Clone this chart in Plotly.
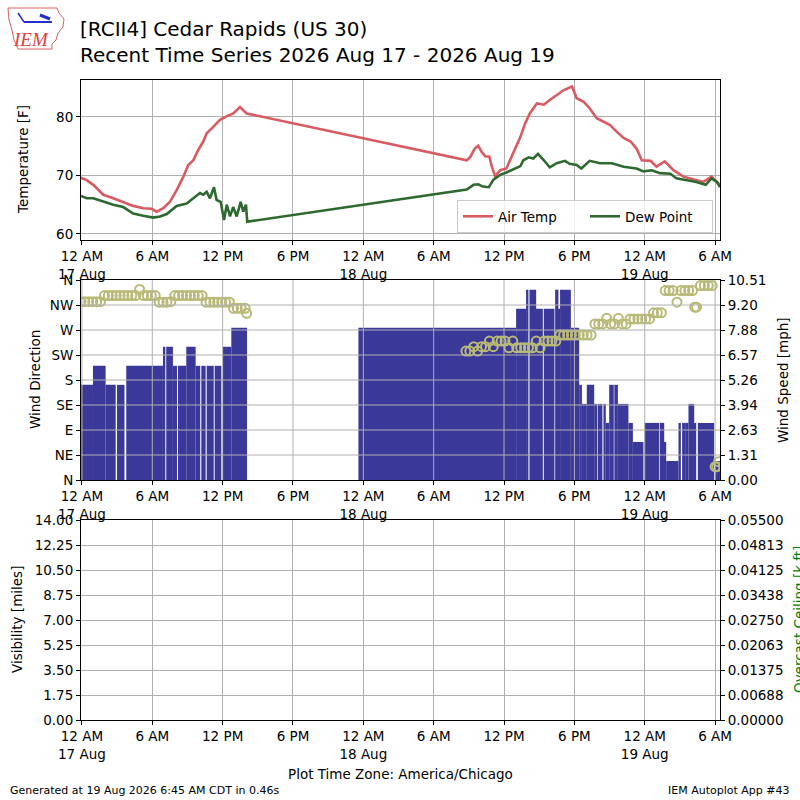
import pandas as pd
import plotly.graph_objects as go

START = pd.Timestamp("2026-08-17 00:00")

# temperatures, hours after 17 Aug 00:00 (CDT)
TEMP_HOURS = [-0.08, 0.40, 0.97, 1.82, 2.67, 3.53, 4.38, 5.23, 5.94, 6.37, 6.94, 7.51,
              8.08, 8.65, 9.07, 9.50, 9.93, 10.35, 10.64, 11.20, 11.77, 12.34, 12.91,
              13.48, 14.05,
              32.82, 33.10, 33.50, 33.80, 34.10, 34.40, 34.75, 34.96, 35.24, 35.67,
              36.20, 36.80, 37.40, 37.80, 38.20, 38.80, 39.40, 39.90, 40.50, 41.10,
              41.80, 42.20, 42.80, 43.30, 43.90, 44.50, 45.05, 45.60, 46.20, 46.80,
              47.30, 47.75, 48.50, 49.00, 49.70, 50.45, 51.30, 52.20, 53.00, 53.70,
              54.15, 54.42]
TEMP_F = [69.6, 69.2, 68.4, 66.7, 66.1, 65.5, 64.8, 64.4, 64.3, 63.8, 64.4, 65.5,
          67.5, 69.8, 71.8, 72.6, 74.4, 75.8, 77.2, 78.3, 79.5, 80.1, 80.6,
          81.7, 80.6,
          72.6, 73.1, 74.6, 75.1, 74.0, 73.3, 73.2, 71.5, 69.9, 70.9,
          71.2, 73.8, 76.6, 78.9, 80.6, 82.3, 82.1, 82.9, 83.8, 84.6,
          85.2, 83.2, 82.6, 81.5, 79.8, 79.2, 78.6, 77.5, 76.4, 75.8,
          74.6, 72.6, 72.5, 71.5, 72.4, 70.9, 69.8, 69.3, 68.9, 69.8,
          68.9, 68.4]

DEW_HOURS = [-0.08, 0.40, 0.97, 1.82, 2.67, 3.52, 4.38, 5.23, 6.08, 6.66, 7.23, 8.08,
             8.93, 9.50, 10.07, 10.35, 10.64, 10.92, 11.26, 11.49, 11.83, 12.12,
             12.35, 12.63, 12.90, 13.20, 13.54, 13.76, 13.99, 14.10,
             32.82, 33.40, 33.80, 34.20, 34.70, 35.10, 35.67, 36.20, 36.80, 37.40,
             37.65, 38.10, 38.50, 38.90, 39.40, 39.90, 40.50, 41.20, 41.60, 42.20,
             42.60, 43.30, 44.20, 45.20, 46.20, 47.30, 47.90, 48.60, 49.30, 50.20,
             50.70, 51.60, 52.40, 53.20, 53.70, 54.15, 54.42]
DEW_F = [66.5, 66.1, 66.1, 65.5, 65.0, 64.6, 63.5, 63.1, 62.8, 63.0, 63.4, 64.8,
         65.2, 66.1, 67.0, 66.7, 67.2, 66.1, 68.0, 65.8, 65.5, 62.4,
         65.0, 63.0, 64.6, 63.0, 65.5, 63.8, 65.0, 62.1,
         67.6, 68.4, 68.5, 68.1, 68.0, 69.3, 70.1, 70.5, 71.1, 71.6,
         72.6, 73.1, 72.9, 73.7, 72.6, 71.4, 72.1, 72.5, 72.0, 71.8,
         71.2, 72.5, 72.1, 72.1, 71.5, 71.2, 70.7, 70.9, 70.4, 70.3,
         69.5, 69.2, 68.9, 68.4, 69.5, 68.9, 68.0]

# wind speed bars: start hour, end hour, speed [mph]
BAR_START = [-0.08, 0.94, 2.02, 2.99, 3.78, 6.91, 7.19, 7.76, 8.19, 8.90, 9.70,
             10.18, 10.64, 11.32, 12.03, 12.74,
             23.58, 37.03, 37.88, 38.17, 38.74, 38.88, 39.39, 40.36, 40.64, 40.78,
             41.70, 42.41, 42.64, 43.06, 43.69, 43.99, 44.48, 44.68, 44.97, 45.41,
             45.71, 46.61, 46.99, 47.98, 49.29, 49.66, 49.83, 50.88, 51.19, 51.60,
             51.73, 52.22, 52.53, 54.01]
BAR_END = [0.94, 2.02, 2.88, 3.63, 6.91, 7.11, 7.76, 8.11, 8.90, 9.70, 10.09,
           10.55, 11.24, 11.89, 12.74, 14.08,
           37.03, 37.88, 38.08, 38.74, 38.85, 39.31, 40.30, 40.64, 40.78, 41.70,
           42.41, 42.64, 43.06, 43.69, 43.94, 44.39, 44.68, 44.97, 45.36, 45.71,
           46.61, 46.99, 47.89, 49.23, 49.66, 49.83, 50.88, 51.08, 51.51, 51.73,
           52.22, 52.39, 53.92, 54.42]
BAR_MPH = [5, 6, 5, 5, 6, 7, 7, 6, 6, 7, 6, 6, 6, 6, 7, 8,
           8, 9, 10, 10, 9, 9, 9, 10, 9, 10,
           8, 5, 4, 5, 4, 4, 4, 3, 5, 5,
           4, 3, 2, 3, 3, 2, 1, 3, 3, 3,
           4, 3, 3, 1]

# wind direction obs
DIR_HOURS = [-0.08, 0.25, 0.58, 0.92, 1.25, 1.58, 1.92, 2.25, 2.58, 2.92, 3.25, 3.58,
             3.92, 4.25, 4.58, 4.92, 5.25, 5.58, 5.92, 6.25, 6.58, 6.92, 7.25, 7.58,
             7.92, 8.25, 8.58, 8.92, 9.25, 9.58, 9.92, 10.25, 10.58, 10.92, 11.25,
             11.58, 11.92, 12.25, 12.58, 12.92, 13.25, 13.58, 13.92, 14.05,
             32.75, 33.08, 33.42, 33.75, 34.08, 34.42, 34.75, 35.08, 35.42, 35.75,
             36.08, 36.42, 36.75, 37.08, 37.42, 37.75, 38.08, 38.42, 38.75, 39.08,
             39.42, 39.75, 40.08, 40.42, 40.75, 41.08, 41.42, 41.75, 42.08, 42.42,
             42.75, 43.08, 43.42, 43.75, 44.08, 44.42, 44.75, 45.08, 45.42, 45.75,
             46.08, 46.42, 46.75, 47.08, 47.42, 47.75, 48.08, 48.42, 48.75, 49.08,
             49.42, 49.75, 50.08, 50.42, 50.75, 51.08, 51.42, 51.75, 52.08, 52.25,
             52.42, 52.75, 53.08, 53.42, 53.75, 54.00, 54.15, 54.30]
DIR_DEG = [321, 321, 321, 321, 321, 321, 332, 332, 332, 332, 332, 332,
           332, 332, 332, 343, 332, 332, 332, 332, 320, 320, 320, 321,
           332, 332, 332, 332, 332, 332, 332, 332, 320, 320, 320,
           320, 320, 320, 320, 309, 309, 309, 309, 300,
           232, 232, 240, 232, 240, 240, 250, 240, 250, 250,
           250, 238, 250, 238, 238, 238, 238, 238, 250, 238,
           250, 250, 250, 250, 261, 261, 261, 261, 261, 261,
           261, 261, 261, 281, 281, 281, 291, 281, 281, 291,
           281, 281, 290, 290, 290, 290, 290, 290, 301, 301,
           301, 341, 341, 341, 320, 341, 341, 341, 341, 311,
           311, 350, 350, 350, 350, 24, 24, 33]

TICK_HOURS = [0, 6, 12, 18, 24, 30, 36, 42, 48, 54]
TICK_TEXT = ["12 AM<br>17 Aug", "6 AM", "12 PM", "6 PM", "12 AM<br>18 Aug",
             "6 AM", "12 PM", "6 PM", "12 AM<br>19 Aug", "6 AM"]
DIR_TICKS = [0, 45, 90, 135, 180, 225, 270, 315, 360]
DIR_LABELS = ["N", "NE", "E", "SE", "S", "SW", "W", "NW", "N"]
SPEED_MAX = 10.51
SPEED_LABELS = ["0.00", "1.31", "2.63", "3.94", "5.26", "6.57", "7.88", "9.20", "10.51"]
VIS_LABELS = ["0.00", "1.75", "3.50", "5.25", "7.00", "8.75", "10.50", "12.25", "14.00"]
CIG_MAX = 0.055
CIG_LABELS = ["0.00000", "0.00688", "0.01375", "0.02063", "0.02750",
              "0.03438", "0.04125", "0.04813", "0.05500"]


def hrs(values):
    return START + pd.to_timedelta(values, unit="h")


def px_x(px):
    return (px - 81) / 639.0


def px_y(py):
    return (720 - py) / 640.0


FONT = "DejaVu Sans"
GRID = "#b0b0b0"

fig = go.Figure()
fig.add_trace(go.Scatter(x=hrs(TEMP_HOURS), y=TEMP_F, mode="lines", name="Air Temp",
                         line=dict(color="#d95a60", width=2.6), xaxis="x", yaxis="y"))
fig.add_trace(go.Scatter(x=hrs(DEW_HOURS), y=DEW_F, mode="lines", name="Dew Point",
                         line=dict(color="#2e6a30", width=2.6), xaxis="x", yaxis="y"))

centers = hrs([(s + e) / 2 for s, e in zip(BAR_START, BAR_END)])
widths = [(e - s) * 3600 * 1000 for s, e in zip(BAR_START, BAR_END)]
fig.add_trace(go.Bar(x=centers, y=BAR_MPH, width=widths, marker=dict(color="#3a3899", line_width=0),
                     showlegend=False, xaxis="x2", yaxis="y2"))
fig.add_trace(go.Scatter(x=hrs(DIR_HOURS), y=DIR_DEG, mode="markers", showlegend=False,
                         marker=dict(symbol="circle-open", size=9, color="#b9ba78",
                                     line=dict(width=2)),
                         xaxis="x2", yaxis="y3"))
# empty visibility / ceiling panel
fig.add_trace(go.Scatter(x=[], y=[], showlegend=False, xaxis="x3", yaxis="y4"))
fig.add_trace(go.Scatter(x=[], y=[], showlegend=False, xaxis="x3", yaxis="y5"))

xr = [hrs([min(TEMP_HOURS)])[0], hrs([max(TEMP_HOURS)])[0]]
tickvals = hrs(TICK_HOURS)
ax = dict(showline=True, linecolor="black", linewidth=1, mirror=True, ticks="outside",
          ticklen=4, tickcolor="black", tickfont=dict(size=13.5, color="black"),
          gridcolor=GRID, gridwidth=1, zeroline=False)
xax = dict(ax, range=xr, tickvals=tickvals, ticktext=TICK_TEXT, type="date")

fig.update_layout(
    width=800, height=800,
    margin=dict(l=81, r=80, t=80, b=80),
    paper_bgcolor="white", plot_bgcolor="white",
    font=dict(family=FONT, color="black"),
    title=dict(text="[RCII4] Cedar Rapids (US 30)<br>Recent Time Series 2026 Aug 17 - 2026 Aug 19",
               x=0.1, xanchor="left", xref="container", y=0.955, yanchor="top",
               yref="container", font=dict(size=20, color="black")),
    xaxis=dict(xax, anchor="y"),
    yaxis=dict(ax, domain=[0.75, 1.0], range=[58.97, 86.32], tickvals=[60, 70, 80]),
    xaxis2=dict(xax, anchor="y2", showgrid=False),
    yaxis2=dict(ax, domain=[0.375, 0.6875], range=[0, SPEED_MAX], side="right", anchor="x2",
                tickvals=[SPEED_MAX * i / 8 for i in range(9)], ticktext=SPEED_LABELS,
                showgrid=False),
    yaxis3=dict(ax, overlaying="y2", side="left", anchor="x2", range=[0, 360],
                tickvals=DIR_TICKS, ticktext=DIR_LABELS, showgrid=False),
    xaxis3=dict(xax, anchor="y4"),
    yaxis4=dict(ax, domain=[0, 0.3125], range=[0, 14], anchor="x3",
                tickvals=[1.75 * i for i in range(9)], ticktext=VIS_LABELS),
    yaxis5=dict(ax, overlaying="y4", side="right", anchor="x3", range=[0, CIG_MAX],
                tickvals=[CIG_MAX * i / 8 for i in range(9)], ticktext=CIG_LABELS,
                showgrid=False),
    legend=dict(orientation="h", x=px_x(713), y=px_y(233), xanchor="right", yanchor="bottom",
                bgcolor="rgba(255,255,255,0.8)", bordercolor="#cccccc", borderwidth=1,
                font=dict(size=13.5), itemwidth=30, entrywidth=82),
    showlegend=True,
)

# wind panel grid drawn over the bars
shapes = []
for t in tickvals:
    shapes.append(dict(type="line", xref="x2", yref="y2 domain", x0=t, x1=t, y0=0, y1=1,
                       line=dict(color=GRID, width=1), layer="above"))
for d in DIR_TICKS[1:-1]:
    shapes.append(dict(type="line", xref="x2 domain", yref="y3", x0=0, x1=1, y0=d, y1=d,
                       line=dict(color=GRID, width=1), layer="above"))

# IEM logo (rough Iowa outline)
iowa = [(8, 8), (57, 8), (59, 13), (64, 19), (63, 27), (58, 33), (56, 40), (52, 44),
        (52, 49), (18, 49), (14, 40), (12, 30), (9, 20), (8, 8)]
path = "M " + " L ".join(f"{px_x(a):.4f},{px_y(b):.4f}" for a, b in iowa) + " Z"
shapes.append(dict(type="path", path=path, xref="paper", yref="paper",
                   line=dict(color="#e06060", width=1), layer="above"))
shapes.append(dict(type="line", xref="paper", yref="paper", x0=px_x(24), x1=px_x(52),
                   y0=px_y(22), y1=px_y(22), line=dict(color="#2030d0", width=2)))
shapes.append(dict(type="line", xref="paper", yref="paper", x0=px_x(18), x1=px_x(24),
                   y0=px_y(13), y1=px_y(22), line=dict(color="#2030d0", width=1.5)))
shapes.append(dict(type="line", xref="paper", yref="paper", x0=px_x(40), x1=px_x(50),
                   y0=px_y(15), y1=px_y(19), line=dict(color="#2030d0", width=3)))
fig.update_layout(shapes=shapes)

ann = [
    dict(text="IEM", x=px_x(31), y=px_y(39), font=dict(family="Liberation Serif", size=19,
                                                          color="#e04040"), ),
    dict(text="Temperature [F]", x=px_x(23), y=px_y(160), textangle=-90, font=dict(size=13.5)),
    dict(text="Wind Direction", x=px_x(35), y=px_y(380), textangle=-90, font=dict(size=13.5)),
    dict(text="Wind Speed [mph]", x=px_x(783), y=px_y(380), textangle=-90, font=dict(size=13.5)),
    dict(text="Visibility [miles]", x=px_x(17), y=px_y(620), textangle=-90, font=dict(size=13.5)),
    dict(text="Overcast Ceiling [k ft]", x=px_x(799), y=px_y(620), textangle=-90,
         font=dict(size=13.5, color="green")),
    dict(text="Plot Time Zone: America/Chicago", x=px_x(400), y=px_y(774), font=dict(size=13.5)),
    dict(text="Generated at 19 Aug 2026 6:45 AM CDT in 0.46s", x=px_x(8), y=px_y(790),
         xanchor="left", font=dict(size=11)),
    dict(text="IEM Autoplot App #43", x=px_x(792), y=px_y(790), xanchor="right",
         font=dict(size=11)),
]
for a in ann:
    a.setdefault("xanchor", "center")
    a.update(xref="paper", yref="paper", showarrow=False, yanchor="middle")
fig.update_layout(annotations=ann)
fig.layout.annotations[0].font.style = "italic"

fig.write_html("out.html", config={"displayModeBar": False},
               post_script="document.body.style.margin='0';")
